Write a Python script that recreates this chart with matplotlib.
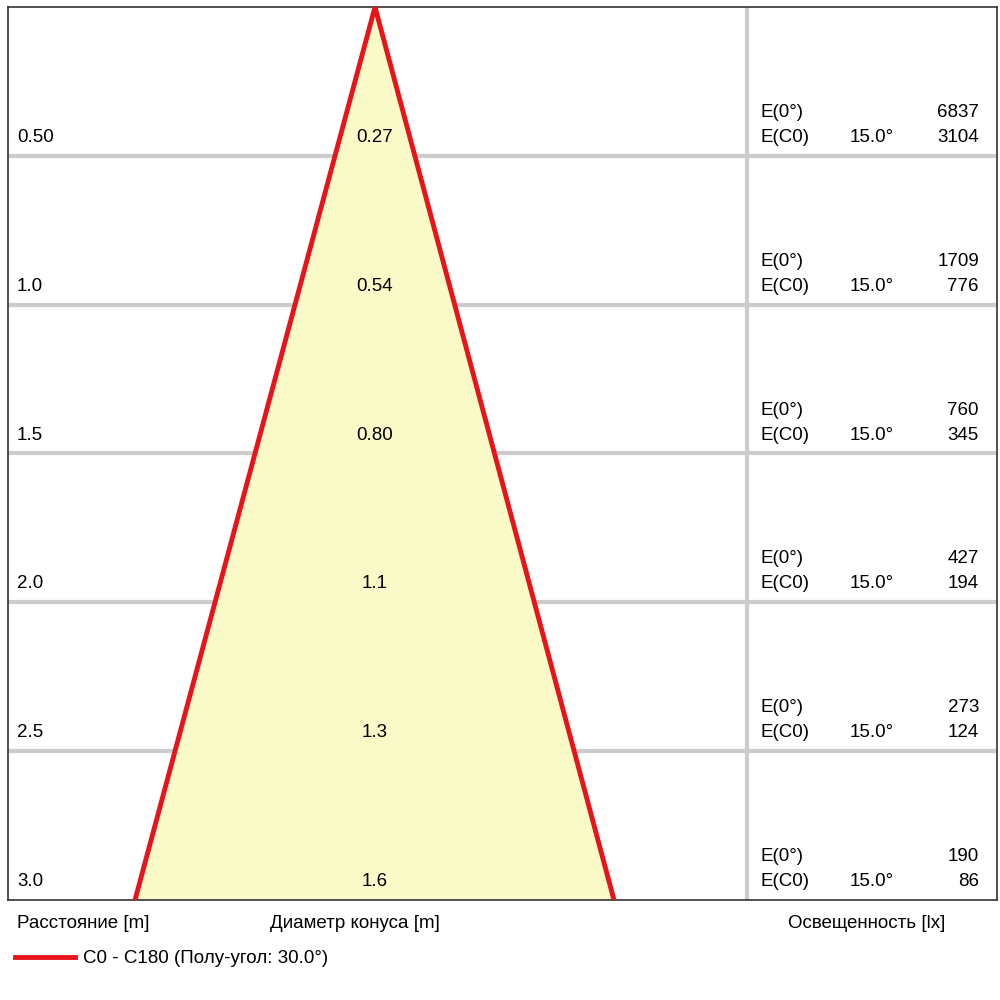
import matplotlib
matplotlib.use("Agg")
import matplotlib.pyplot as plt

distances = [0.5, 1.0, 1.5, 2.0, 2.5, 3.0]
dist_labels = ["0.50", "1.0", "1.5", "2.0", "2.5", "3.0"]
diam_labels = ["0.27", "0.54", "0.80", "1.1", "1.3", "1.6"]
e0 = [6837, 1709, 760, 427, 273, 190]
ec0 = [3104, 776, 345, 194, 124, 86]
angle_label = "15.0°"

plt.rcParams['font.family'] = ['Liberation Sans', 'DejaVu Sans']
fig = plt.figure(figsize=(10, 10), dpi=100)
ax = fig.add_axes([0.008, 0.1, 0.989, 0.893])
ax.set_xlim(8, 997)
ax.set_ylim(3.0, 0.0)
ax.set_xticks([]); ax.set_yticks([])
for s in ax.spines.values():
    s.set_color('#333333'); s.set_linewidth(1.2)

grey = '#cccccc'
for d in distances[:-1]:
    ax.axhline(d, color=grey, lw=3, zorder=1)
ax.axvline(747, color=grey, lw=3, zorder=1)

apex, left, right = 375, 135, 614
ax.fill([apex, left, right], [0, 3.0, 3.0], color='#fafac8', zorder=2)
ax.plot([left, apex, right], [3.0, 0, 3.0], color='#e8141b', lw=3.5, zorder=3, solid_joinstyle='miter')

fs = 13.5
for d, dl, cl, a, b in zip(distances, dist_labels, diam_labels, e0, ec0):
    y = d - 0.047
    ax.text(17, y, dl, fontsize=fs, va='baseline', zorder=4)
    ax.text(375, y, cl, fontsize=fs, va='baseline', ha='center', zorder=4)
    ax.text(760, y, "E(C0)", fontsize=fs, va='baseline')
    ax.text(850, y, angle_label, fontsize=fs, va='baseline')
    ax.text(979, y, str(b), fontsize=fs, va='baseline', ha='right')
    y2 = y - 0.084
    ax.text(760, y2, "E(0°)", fontsize=fs, va='baseline')
    ax.text(979, y2, str(a), fontsize=fs, va='baseline', ha='right')

fig.text(0.017, 0.072, "Расстояние [m]", fontsize=fs, va='baseline')
fig.text(0.270, 0.072, "Диаметр конуса [m]", fontsize=fs, va='baseline')
fig.text(0.788, 0.072, "Освещенность [lx]", fontsize=fs, va='baseline')
fig.add_artist(plt.Line2D([0.015, 0.075], [0.043, 0.043], color='#e8141b', lw=3.5))
fig.text(0.083, 0.037, "C0 - C180 (Полу-угол: 30.0°)", fontsize=fs, va='baseline')

fig.savefig("out.png", dpi=100)
